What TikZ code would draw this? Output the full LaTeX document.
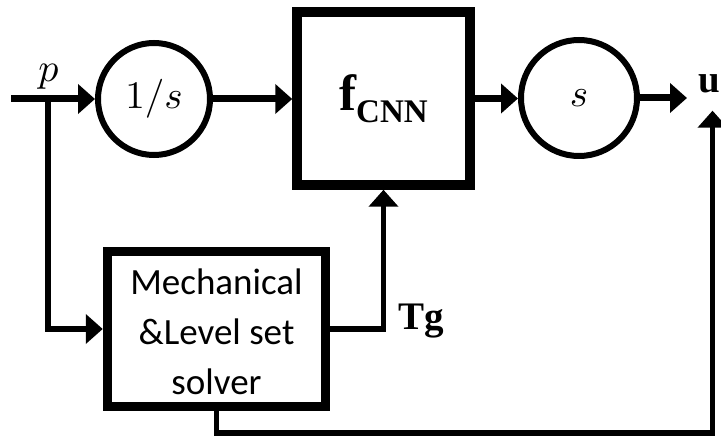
\documentclass[tikz,border=0pt]{standalone}
\usepackage{graphicx}
\usepackage[no-math]{fontspec}
\setmainfont{Carlito}
\newfontfamily\cambria{Liberation Serif}
\usetikzlibrary{arrows.meta,positioning}
\begin{document}
\begin{tikzpicture}[x=1pt,y=-1pt,
  >={Triangle[length=17pt,width=29pt]},
  sum/.style={draw,circle,line width=6pt,minimum size=112pt,inner sep=0pt},
  block/.style={draw,rectangle,line width=9.5pt,inner sep=0pt},
  wire/.style={line width=5.5pt},
  mainwire/.style={line width=7pt}]
 \useasboundingbox (0,0) rectangle (721,438);
 % upper row
 \coordinate (in) at (11,99);
 \coordinate (branch) at (48,99);
 \node[anchor=base] (p) at (48.5,82) {\scalebox{4}{$p$}};
 \node[sum] (integ) at (154,99) {\scalebox{3.9}{$1/s$}};
 \node[block,minimum width=173pt,minimum height=173pt] (cnn) at (383.5,98.5)
  {\cambria\bfseries\fontsize{51}{51}\selectfont f\raisebox{-12pt}{\fontsize{33}{33}\selectfont CNN}};
 \node[sum,minimum size=116pt] (deriv) at (579,98) {\scalebox{3.9}{$s$}};
 \node[anchor=base west,inner sep=0pt] (u) at (698.5,93) {\cambria\bfseries\fontsize{39}{39}\selectfont u};
 % solver
 \node[block,minimum width=218pt,minimum height=155pt,align=center,text height=132pt,text depth=0pt,
  font=\fontsize{37}{50}\selectfont] (solver) at (216.5,329) {Mechanical\\\&Level set\\solver};
 \node[anchor=base west,inner sep=0pt] (tg) at (398,330) {\cambria\bfseries\fontsize{39}{39}\selectfont Tg};
 % connectors
 \draw[mainwire,->] (in) -- (integ.west);
 \draw[mainwire,->] (integ.east) -- (integ.east -| cnn.west);
 \draw[mainwire,->] (cnn.east) -- (cnn.east -| deriv.west);
 \draw[mainwire,->,shorten >=11.5pt] (deriv.east) -- (deriv.east -| u.west);
 \draw[wire,->] (branch) |- (solver.west);
 \draw[wire,->] (solver.east) -| (cnn.south);
 \draw[wire,->,shorten >=17pt] (solver.south) -- ++(0,22) -| ([xshift=3pt]u.south);
\end{tikzpicture}
\end{document}
